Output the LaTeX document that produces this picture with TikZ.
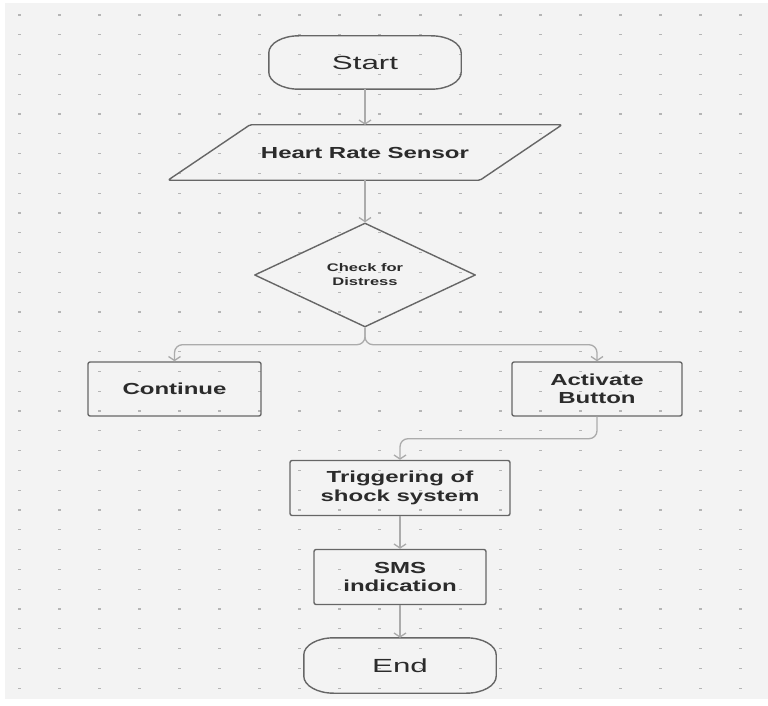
\documentclass[tikz,border=0pt]{standalone}
\usepackage{fontspec}
\setmainfont{Liberation Sans}
\newfontfamily\boxfont{Liberation Sans}[FakeStretch=1.5]
\newfontfamily\termfont{Liberation Sans}[FakeStretch=1.65]
\usetikzlibrary{arrows.meta,shapes.geometric,positioning}
\definecolor{bgcol}{HTML}{F3F3F3}
\definecolor{dotcol}{HTML}{B5B5B5}
\definecolor{edgecol}{HTML}{666666}
\definecolor{arrcol}{HTML}{ABABAB}
\definecolor{txtcol}{HTML}{2B2B2B}
% outline with oval ends round a terminal node
\newcommand{\termoutline}[1]{%
	\draw[shapeline] ([xshift=30pt]#1.north west) -- ([xshift=-30pt]#1.north east)
		arc[start angle=90, end angle=0, x radius=30pt, y radius=17pt] -- ([yshift=17pt]#1.south east)
		arc[start angle=0, end angle=-90, x radius=30pt, y radius=17pt] -- ([xshift=30pt]#1.south west)
		arc[start angle=270, end angle=180, x radius=30pt, y radius=17pt] -- ([yshift=-17pt]#1.north west)
		arc[start angle=180, end angle=90, x radius=30pt, y radius=17pt] -- cycle;}

\begin{document}
\begin{tikzpicture}[x=1pt, y=-1pt,
	shapeline/.style={draw=edgecol, line width=1.4pt, line join=round},
	termbox/.style={inner sep=0pt, minimum width=192pt, minimum height=53pt, text=txtcol, font=\termfont\fontsize{19}{22}\selectfont},
	procbox/.style={shapeline, rounded corners=2pt, inner sep=0pt, align=center, text=txtcol, font=\boxfont\fontsize{16}{18.5}\selectfont\bfseries},
	inbox/.style={inner sep=0pt, minimum width=230pt, minimum height=55pt, text=txtcol, font=\boxfont\fontsize{16}{18.5}\selectfont\bfseries},
	decision/.style={diamond, shapeline, aspect=2, inner sep=0pt, minimum width=221pt, minimum height=104pt, align=center, text=txtcol, font=\boxfont\fontsize{11}{14}\selectfont\bfseries},
	flow/.style={draw=arrcol, line width=1.3pt, rounded corners=8pt, -{Straight Barb[length=4pt, width=12pt]}}]
	\useasboundingbox (0,0) rectangle (768,706);
	\fill[white] (0,0) rectangle (768,706);
	\fill[bgcol] (5,3) rectangle (768,699);
	\foreach \i in {0,...,18}
		\foreach \j in {0,...,34}
			\fill[dotcol] ({17.5+40.1*\i},{14.4+19.8*\j}) rectangle ++(3,1.2);

	\node[termbox] (start) at (365,62.5) {Start};
	\termoutline{start}
	\node[inbox] (sensor) at (365,152.5) {Heart Rate Sensor};
	\draw[shapeline, rounded corners=1.5pt] ([xshift=-115pt]sensor.north) -- ([xshift=197pt]sensor.north)
		-- ([xshift=115pt]sensor.south) -- ([xshift=-197pt]sensor.south) -- cycle;
	\node[decision] (check) at (365,275) {Check for\\Distress};
	\node[procbox, minimum width=173pt, minimum height=54pt] (cont) at (174.5,389) {Continue};
	\node[procbox, minimum width=170pt, minimum height=54pt] (act) at (597,389) {Activate\\Button};
	\node[procbox, minimum width=220pt, minimum height=55pt] (trig) at (400,488) {Triggering of\\shock system};
	\node[procbox, minimum width=172pt, minimum height=55pt] (sms) at (400,577) {SMS\\indication};
	\node[termbox, minimum height=55pt] (end) at (400,665.5) {End};
	\termoutline{end}

	\draw[flow] (start) -- (sensor);
	\draw[flow] (sensor) -- (check);
	\draw[flow] (check.south) -- ++(0,17) -| (cont.north);
	\draw[flow] (check.south) -- ++(0,17) -| (act.north);
	\draw[flow] (act.south) -- ++(0,22) -| (trig.north);
	\draw[flow] (trig) -- (sms);
	\draw[flow] (sms) -- (end);
\end{tikzpicture}
\end{document}
